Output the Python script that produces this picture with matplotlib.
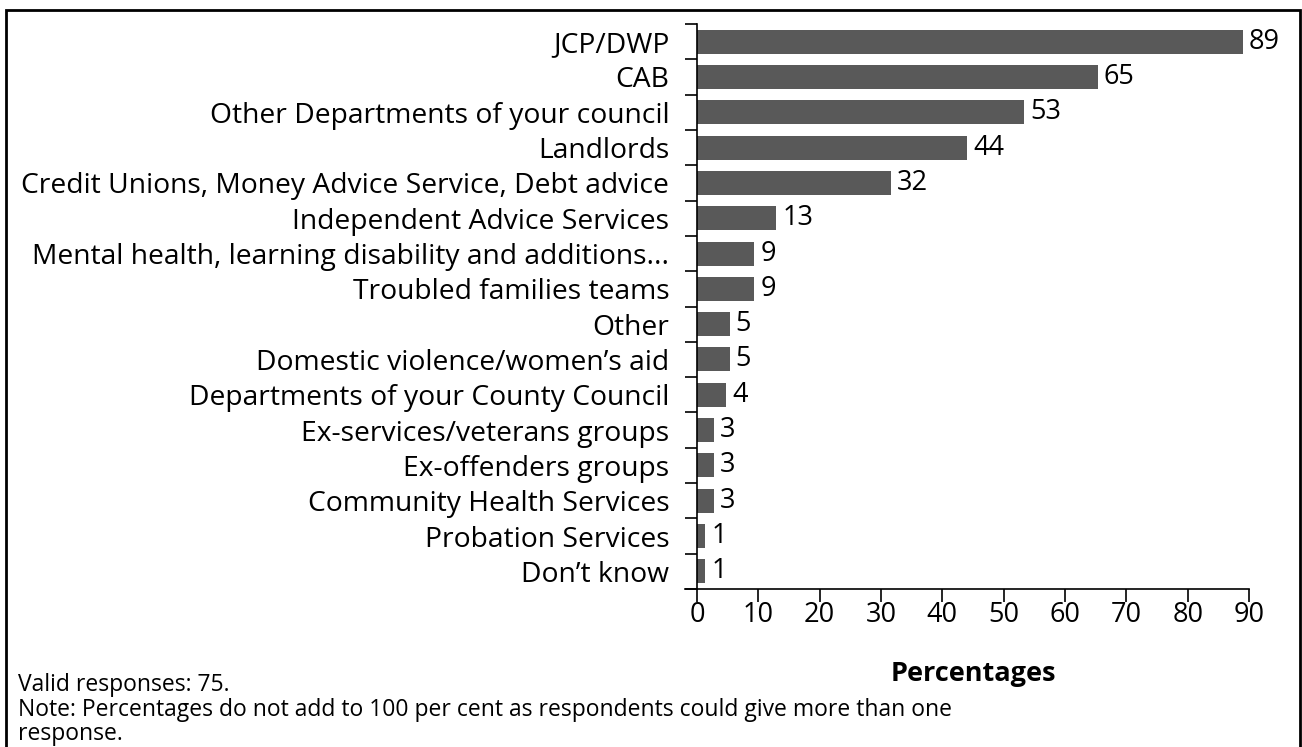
import matplotlib.pyplot as plt
from matplotlib.patches import Rectangle

# categories, top to bottom
categories = [
    'JCP/DWP', 'CAB', 'Other Departments of your council', 'Landlords',
    'Credit Unions, Money Advice Service, Debt advice',
    'Independent Advice Services',
    'Mental health, learning disability and additions...',
    'Troubled families teams', 'Other', 'Domestic violence/women\u2019s aid',
    'Departments of your County Council', 'Ex-services/veterans groups',
    'Ex-offenders groups', 'Community Health Services',
    'Probation Services', 'Don\u2019t know',
]
values = [89, 65.3, 53.3, 44, 31.6, 12.9, 9.3, 9.3, 5.3, 5.3, 4.8,
          2.7, 2.7, 2.7, 1.3, 1.3]
labels = ['89', '65', '53', '44', '32', '13', '9', '9', '5', '5', '4',
          '3', '3', '3', '1', '1']
xticks = list(range(0, 91, 10))

plt.rcParams['font.family'] = ['Open Sans', 'DejaVu Sans']
FS = 19.5      # ticks, values, axis title
FS_CAT = 20.3  # category labels
FS_NOTE = 16.5 # footnotes
W, H = 1302, 747
fig = plt.figure(figsize=(W / 100, H / 100), dpi=100)

# outer frame
fig.patches.append(Rectangle((6 / W, -0.05), (W - 8) / W, 1.05 - 10 / H,
                             transform=fig.transFigure, fill=False,
                             edgecolor='black', linewidth=2))

ax = fig.add_axes([697 / W, 1 - 589 / H, (1249 - 697) / W, (589 - 24) / H])
ypos = list(range(len(categories)))
ax.barh(ypos, values, height=0.68, color='#595959')
for y, v, t in zip(ypos, values, labels):
    ax.text(v + 1.0, y, t, va='center', ha='left', fontsize=FS)

ax.set_ylim(len(categories) - 0.5, -0.5)
ax.set_xlim(0, 90)
ax.set_xticks(xticks)
ax.tick_params(axis='x', labelsize=FS, length=9, width=1.2, pad=0)

# y ticks at category boundaries, labels centred on rows
ax.set_yticks([i - 0.5 for i in range(len(categories) + 1)])
ax.set_yticklabels([])
ax.set_yticks(ypos, minor=True)
ax.set_yticklabels(categories, minor=True, fontsize=FS_CAT)
ax.tick_params(axis='y', which='major', length=9, width=1.2, direction='out')
ax.tick_params(axis='y', which='minor', length=0, pad=20)

for s in ['top', 'right']:
    ax.spines[s].set_visible(False)
ax.spines['left'].set_linewidth(1.2)
ax.spines['bottom'].set_linewidth(1.2)
ax.spines['bottom'].set_bounds(-2, 90)

fig.text(973 / W, 1 - 674 / H, 'Percentages', fontsize=FS, fontweight='bold',
         ha='center', va='center')
fig.text(18 / W, 1 - 685 / H, 'Valid responses: 75.', fontsize=FS_NOTE, va='center')
fig.text(18 / W, 1 - 710 / H,
         'Note: Percentages do not add to 100 per cent as respondents could give more than one',
         fontsize=FS_NOTE, va='center')
fig.text(18 / W, 1 - 734 / H, 'response.', fontsize=FS_NOTE, va='center')

fig.savefig('out.png', dpi=100)
